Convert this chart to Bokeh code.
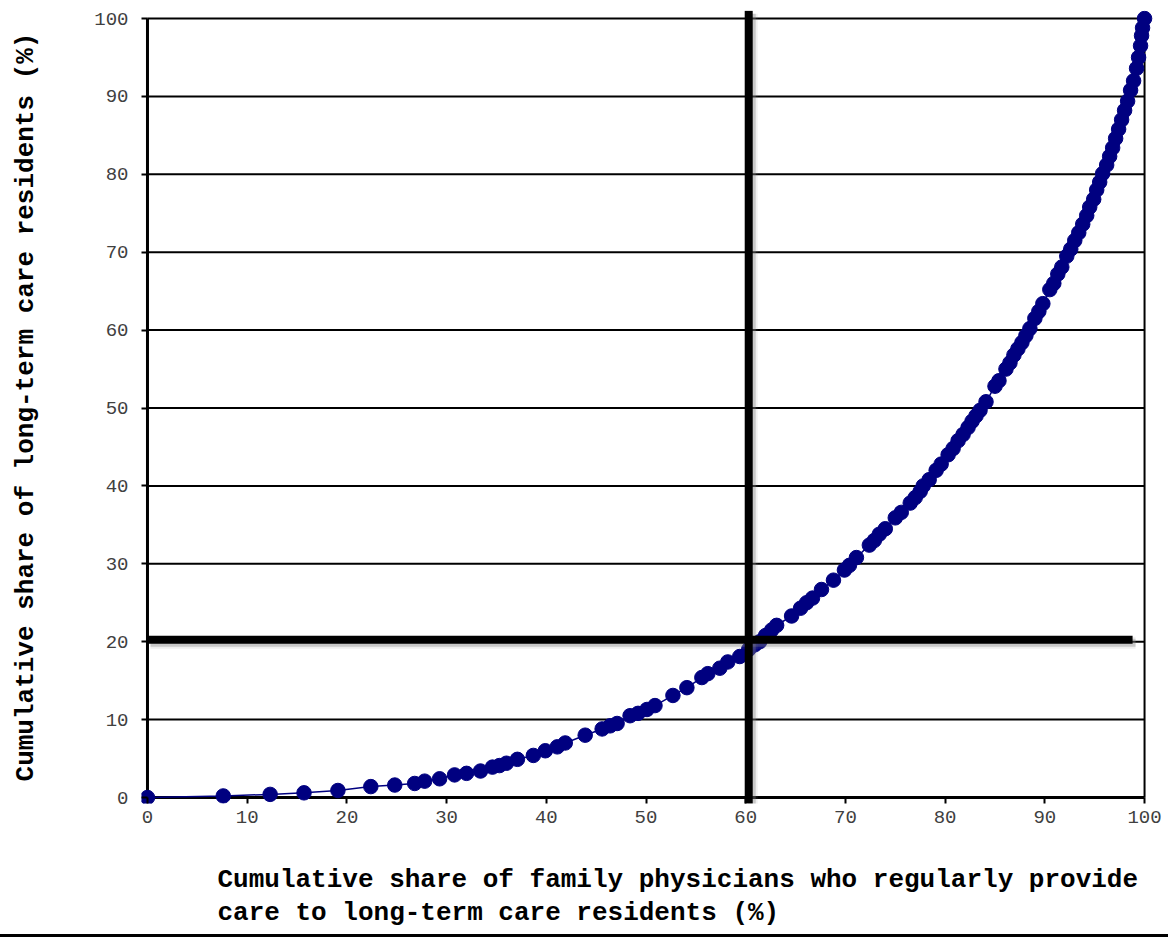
from bokeh.plotting import figure
from bokeh.models import Range1d, FixedTicker, Title
from bokeh.embed import file_html
from bokeh.resources import INLINE

# ---- data ----
physician_share = [
    0.0, 7.6, 12.3, 15.7, 19.1, 22.4, 24.8, 26.8, 27.8, 29.3, 30.8, 32.0, 33.4,
    34.6, 35.3, 36.0, 37.1, 38.7, 39.9, 41.1, 41.9, 43.9, 45.6, 46.4, 47.1,
    48.4, 49.2, 50.1, 50.9, 52.7, 54.1, 55.6, 56.2, 57.4, 58.2, 59.4, 60.3,
    60.9, 61.4, 62.0, 62.6, 63.1, 64.6, 65.5, 66.1, 66.7, 67.6, 68.8, 69.9,
    70.4, 71.1, 72.4, 72.9, 73.4, 74.0, 75.0, 75.6, 76.5, 77.0, 77.5, 77.8,
    78.4, 79.1, 79.6, 80.3, 80.8, 81.3, 81.8, 82.3, 82.7, 83.1, 83.5, 84.1,
    85.0, 85.4, 86.1, 86.5, 86.9, 87.3, 87.7, 88.1, 88.5, 89.0, 89.4, 89.8,
    90.5, 90.9, 91.3, 91.7, 92.2, 92.6, 93.0, 93.4, 93.8, 94.2, 94.5, 94.9,
    95.2, 95.5, 95.8, 96.2, 96.5, 96.8, 97.1, 97.4, 97.7, 98.0, 98.3, 98.6,
    98.9, 99.2, 99.4, 99.6, 99.7, 99.8, 100.0,
]
resident_share = [
    0.0, 0.2, 0.4, 0.6, 0.9, 1.4, 1.6, 1.8, 2.1, 2.4, 2.9, 3.1, 3.4,
    3.9, 4.1, 4.4, 4.9, 5.4, 6.0, 6.5, 7.0, 8.0, 8.8, 9.2, 9.5,
    10.5, 10.8, 11.3, 11.8, 13.1, 14.1, 15.4, 15.9, 16.6, 17.4, 18.1, 19.0,
    19.6, 20.0, 20.8, 21.5, 22.1, 23.3, 24.3, 25.0, 25.6, 26.7, 27.9, 29.2,
    29.8, 30.8, 32.4, 33.0, 33.8, 34.5, 35.9, 36.6, 37.8, 38.5, 39.3, 40.0,
    40.8, 42.0, 42.8, 44.0, 44.8, 45.8, 46.6, 47.5, 48.3, 49.0, 49.7, 50.8,
    52.8, 53.5, 55.0, 55.8, 56.8, 57.6, 58.4, 59.3, 60.2, 61.5, 62.4, 63.4,
    65.2, 66.0, 67.2, 68.1, 69.5, 70.4, 71.5, 72.5, 73.6, 74.7, 75.8, 76.8,
    78.0, 79.0, 80.1, 81.2, 82.3, 83.4, 84.6, 85.8, 87.0, 88.2, 89.4, 90.8,
    92.0, 93.6, 95.0, 96.5, 97.8, 98.8, 100.0,
]
tick_values = [0, 10, 20, 30, 40, 50, 60, 70, 80, 90, 100]
grid_values = [10, 20, 30, 40, 50, 60, 70, 80, 90, 100]
axis_min, axis_max = 0, 100

# hand-drawn guide lines of the original (vertical near 60 %, horizontal near 20 %)
guide_v_x = 60.3
guide_v_span = (-0.8, 101.0)
guide_h_y = 20.25
guide_h_span = (0.0, 98.8)

x_title_lines = [
    "Cumulative share of family physicians who regularly provide",
    "care to long-term care residents (%)",
]
y_title = "Cumulative share of long-term care residents (%)"

NAVY = "#000080"
MONO = "Liberation Mono"

p = figure(
    width=1168, height=937,
    x_range=Range1d(-0.6, 101.6), y_range=Range1d(-0.77, 101.03),
    min_border_left=141, min_border_right=8, min_border_top=10, min_border_bottom=134,
    output_backend="svg", toolbar_location=None,
)
p.styles = {"border-bottom": "3px solid black"}
p.xgrid.visible = False
p.ygrid.visible = False
p.outline_line_color = None
p.background_fill_color = "white"
p.border_fill_color = "white"

for ax in (p.xaxis, p.yaxis):
    ax.bounds = (axis_min, axis_max)
    ax.ticker = FixedTicker(ticks=tick_values)
    ax.minor_tick_line_color = None
    ax.axis_line_color = None
    ax.major_tick_in = 6
    ax.major_tick_out = 0
    ax.major_tick_line_width = 2
    ax.major_tick_line_color = "black"
    ax.major_label_text_font = MONO
    ax.major_label_text_font_size = "19px"
    ax.major_label_text_color = "#404040"
p.xaxis.major_label_standoff = 7
p.yaxis.major_label_standoff = 13

p.yaxis.axis_label = y_title
p.yaxis.axis_label_text_font = MONO
p.yaxis.axis_label_text_font_style = "bold"
p.yaxis.axis_label_text_font_size = "26px"
p.yaxis.axis_label_text_color = "black"
p.yaxis.axis_label_standoff = 50

# axis lines, horizontal gridlines and right frame line
n = len(grid_values)
p.segment(x0=[axis_min] * n, y0=grid_values, x1=[axis_max] * n, y1=grid_values,
          line_color="black", line_width=2)
p.segment(x0=[axis_max], y0=[axis_min], x1=[axis_max], y1=[axis_max],
          line_color="black", line_width=2)
p.segment(x0=[axis_min, axis_min], y0=[axis_min, axis_min], x1=[axis_max, axis_min], y1=[axis_min, axis_max],
          line_color="black", line_width=3)

# curve
p.line(physician_share, resident_share, line_color=NAVY, line_width=1.5)
p.scatter(physician_share, resident_share, size=14.5, fill_color=NAVY, line_color=NAVY)

# guide lines with soft shadow
sx, sy = 0.3, -0.4
for w, a in ((12, 0.12), (8, 0.35)):
    p.segment(x0=[guide_v_x + sx], y0=[guide_v_span[0] + sy], x1=[guide_v_x + sx], y1=[guide_v_span[1] + sy],
              line_color="#808080", line_alpha=a, line_width=w)
    p.segment(x0=[guide_h_span[0] + sx], y0=[guide_h_y + sy], x1=[guide_h_span[1] + sx], y1=[guide_h_y + sy],
              line_color="#808080", line_alpha=a, line_width=w)
p.segment(x0=[guide_v_x], y0=[guide_v_span[0]], x1=[guide_v_x], y1=[guide_v_span[1]],
          line_color="black", line_width=8)
p.segment(x0=[guide_h_span[0]], y0=[guide_h_y], x1=[guide_h_span[1]], y1=[guide_h_y],
          line_color="black", line_width=8)

# spacer, then the two-line x title, left aligned
p.add_layout(Title(text=" ", text_font=MONO, text_font_size="26px",
                   text_line_height=1.12, standoff=0), "below")
p.add_layout(Title(text="\n".join(x_title_lines), align="left", offset=76,
                   text_font=MONO, text_font_style="bold", text_font_size="26px",
                   text_line_height=1.12, text_color="black", standoff=10), "below")

open("out.html", "w").write(file_html(p, INLINE))
